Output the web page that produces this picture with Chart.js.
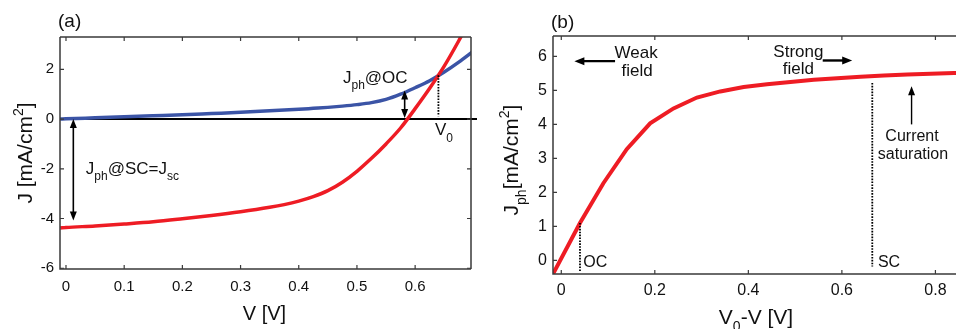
<!DOCTYPE html>
<html><head><meta charset="utf-8">
<script src="https://cdn.jsdelivr.net/npm/chart.js@4/dist/chart.umd.min.js"></script>
<style>
html,body{margin:0;padding:0;background:#fff;overflow:hidden;width:956px;height:329px}
#ca{position:absolute;left:0;top:0}
#cb{position:absolute;left:478px;top:0}
</style></head><body>
<canvas id="ca" width="478" height="329"></canvas>
<canvas id="cb" width="478" height="329"></canvas>
<script>
// ---------- Panel (a) data: J-V curves ----------
const voltageA = [-0.01, 0, 0.05, 0.1, 0.15, 0.2, 0.25, 0.3, 0.35, 0.375, 0.4, 0.425, 0.45, 0.475, 0.5, 0.525, 0.55, 0.575, 0.6, 0.625, 0.65, 0.675, 0.7];
const jIlluminated = [-4.38, -4.36, -4.30, -4.22, -4.13, -4.01, -3.88, -3.73, -3.55, -3.44, -3.30, -3.12, -2.88, -2.54, -2.10, -1.58, -1.00, -0.36, 0.42, 1.24, 2.13, 3.15, 4.25];
const jDark = [0.0, 0.01, 0.05, 0.09, 0.13, 0.17, 0.22, 0.27, 0.33, 0.36, 0.39, 0.43, 0.47, 0.52, 0.58, 0.66, 0.79, 1.00, 1.26, 1.54, 1.89, 2.29, 2.73];
const xTicksA = [0, 0.1, 0.2, 0.3, 0.4, 0.5, 0.6];
const xTickLabelsA = ['0', '0.1', '0.2', '0.3', '0.4', '0.5', '0.6'];
const yTicksA = [-6, -4, -2, 0, 2];
const yTickLabelsA = ['-6', '-4', '-2', '0', '2'];

// ---------- Panel (b) data: photocurrent ----------
const fieldB = [-0.02, 0.04, 0.09, 0.14, 0.19, 0.24, 0.29, 0.34, 0.39, 0.44, 0.49, 0.54, 0.59, 0.64, 0.69, 0.74, 0.79, 0.84, 0.89];
const jPhoto = [-0.46, 1.10, 2.27, 3.27, 4.03, 4.47, 4.79, 4.97, 5.10, 5.18, 5.25, 5.31, 5.36, 5.40, 5.44, 5.47, 5.49, 5.51, 5.53];
const xTicksB = [0, 0.2, 0.4, 0.6, 0.8];
const xTickLabelsB = ['0', '0.2', '0.4', '0.6', '0.8'];
const yTicksB = [0, 1, 2, 3, 4, 5, 6];
const yTickLabelsB = ['0', '1', '2', '3', '4', '5', '6'];

const FONT = '"Liberation Sans", Arial, sans-serif';
const FRAME = '#3a3a3a';
const RED = '#ee1c24';
const BLUE = '#3b54a6';

function rich(ctx, segs, x, y, size, align) {
  const f = m => Math.round(m ? size * 0.68 : size) + 'px ' + FONT;
  const w = segs.map(([t, m]) => { ctx.font = f(m); return ctx.measureText(t).width; });
  const total = w.reduce((a, b) => a + b, 0);
  let cx = align === 'center' ? x - total / 2 : (align === 'right' ? x - total : x);
  ctx.textAlign = 'left'; ctx.textBaseline = 'alphabetic';
  segs.forEach(([t, m], i) => {
    ctx.font = f(m);
    const dy = m === 1 ? size * 0.36 : (m === 2 ? -size * 0.42 : 0);
    ctx.fillText(t, cx, y + dy);
    cx += w[i];
  });
}
function arrowHead(ctx, x, y, dx, dy, len, wid) {
  const n = Math.hypot(dx, dy); const ux = dx / n, uy = dy / n;
  ctx.beginPath();
  ctx.moveTo(x, y);
  ctx.lineTo(x - ux * len - uy * wid / 2, y - uy * len + ux * wid / 2);
  ctx.lineTo(x - ux * len + uy * wid / 2, y - uy * len - ux * wid / 2);
  ctx.closePath(); ctx.fill();
}
function arrow(ctx, x1, y1, x2, y2, both, lw, L, W) {
  L = L || 9; W = W || 7;
  const n = Math.hypot(x2 - x1, y2 - y1); const ux = (x2 - x1) / n, uy = (y2 - y1) / n;
  ctx.strokeStyle = '#000'; ctx.fillStyle = '#000'; ctx.lineWidth = lw || 1.6; ctx.setLineDash([]);
  ctx.beginPath();
  ctx.moveTo(both ? x1 + ux * (L - 2) : x1, both ? y1 + uy * (L - 2) : y1);
  ctx.lineTo(x2 - ux * (L - 2), y2 - uy * (L - 2));
  ctx.stroke();
  arrowHead(ctx, x2, y2, ux, uy, L, W);
  if (both) arrowHead(ctx, x1, y1, -ux, -uy, L, W);
}
function dotted(ctx, x, y1, y2) {
  ctx.save(); ctx.strokeStyle = '#000'; ctx.lineWidth = 1.8; ctx.setLineDash([1.6, 1.3]);
  ctx.beginPath(); ctx.moveTo(x, y1); ctx.lineTo(x, y2); ctx.stroke(); ctx.restore();
}
function frameAndTicks(chart, sides) {
  const ctx = chart.ctx, a = chart.chartArea, xs = chart.scales.x, ys = chart.scales.y;
  ctx.save();
  ctx.strokeStyle = FRAME; ctx.lineWidth = 1.5; ctx.setLineDash([]);
  ctx.beginPath();
  ctx.moveTo(a.left, a.top); ctx.lineTo(a.left, a.bottom); ctx.lineTo(a.right, a.bottom);
  ctx.moveTo(a.left, a.top); ctx.lineTo(a.right, a.top);
  if (sides.right) { ctx.moveTo(a.right, a.top); ctx.lineTo(a.right, a.bottom); }
  ctx.stroke();
  ctx.lineWidth = 1.2;
  ctx.beginPath();
  xs.ticks.forEach(t => {
    const p = xs.getPixelForValue(t.value);
    ctx.moveTo(p, a.bottom); ctx.lineTo(p, a.bottom - 4);
    ctx.moveTo(p, a.top); ctx.lineTo(p, a.top + 4);
  });
  ys.ticks.forEach(t => {
    const p = ys.getPixelForValue(t.value);
    ctx.moveTo(a.left, p); ctx.lineTo(a.left + 4, p);
    if (sides.right) { ctx.moveTo(a.right, p); ctx.lineTo(a.right - 4, p); }
  });
  ctx.stroke();
  ctx.restore();
}
function axisCommon(ticksArr, labelsArr, min, max, size, pad, fitProp, fitVal) {
  return {
    type: 'linear', min: min, max: max,
    grid: { display: false, drawTicks: false }, border: { display: false },
    afterBuildTicks: s => { s.ticks = ticksArr.map(v => ({ value: v })); },
    afterFit: s => { s[fitProp] = fitVal; },
    ticks: {
      color: '#111', font: { family: FONT, size: size }, padding: pad,
      maxRotation: 0, autoSkip: false,
      callback: (v, i) => labelsArr[i]
    }
  };
}

// ---------- Chart (a) ----------
const pluginA = {
  id: 'pa',
  beforeDatasetsDraw(chart) {
    const ctx = chart.ctx, a = chart.chartArea, ys = chart.scales.y;
    const y0 = ys.getPixelForValue(0);
    ctx.save(); ctx.strokeStyle = '#000'; ctx.lineWidth = 2;
    ctx.beginPath(); ctx.moveTo(a.left, y0); ctx.lineTo(a.right + 6, y0); ctx.stroke(); ctx.restore();
  },
  afterDatasetsDraw(chart) {
    const ctx = chart.ctx, xs = chart.scales.x, ys = chart.scales.y;
    frameAndTicks(chart, { right: true });
    const X = v => xs.getPixelForValue(v), Y = v => ys.getPixelForValue(v);
    ctx.save();
    arrow(ctx, X(0.0126), Y(0), X(0.0126), Y(-4.08), true);
    arrow(ctx, X(0.582), Y(0.04), X(0.582), Y(1.15), true);
    dotted(ctx, X(0.640), Y(1.76), Y(0.11));
    ctx.fillStyle = '#111';
    rich(ctx, [['J', 0], ['ph', 1], ['@OC', 0]], X(0.476), Y(1.44), 17, 'left');
    rich(ctx, [['V', 0], ['0', 1]], X(0.634), Y(-0.66), 17, 'left');
    rich(ctx, [['J', 0], ['ph', 1], ['@SC=J', 0], ['sc', 1]], X(0.034), Y(-2.20), 17, 'left');
    const a = chart.chartArea;
    rich(ctx, [['(a)', 0]], a.left - 2, 26.5, 19, 'left');
    rich(ctx, [['V [V]', 0]], (a.left + a.right) / 2 - 1, 320, 20, 'center');
    ctx.translate(31.5, 153); ctx.rotate(-Math.PI / 2);
    rich(ctx, [['J [mA/cm', 0], ['2', 2], [']', 0]], 0, 0, 21, 'center');
    ctx.restore();
  }
};
new Chart(document.getElementById('ca'), {
  type: 'line',
  data: {
    datasets: [
      { data: voltageA.map((v, i) => ({ x: v, y: jIlluminated[i] })), borderColor: RED, borderWidth: 3.5, pointRadius: 0, cubicInterpolationMode: 'monotone', fill: false },
      { data: voltageA.map((v, i) => ({ x: v, y: jDark[i] })), borderColor: BLUE, borderWidth: 3.5, pointRadius: 0, cubicInterpolationMode: 'monotone', fill: false }
    ]
  },
  options: {
    responsive: false, animation: false, devicePixelRatio: 1,
    layout: { padding: { left: 0, top: 37, right: 7, bottom: 0 } },
    plugins: { legend: { display: false }, tooltip: { enabled: false } },
    scales: {
      x: axisCommon(xTicksA, xTickLabelsA, -0.0103, 0.696, 15, 9, 'height', 60),
      y: axisCommon(yTicksA, yTickLabelsA, -6.03, 3.3, 15, 6, 'width', 60)
    }
  },
  plugins: [pluginA]
});

// ---------- Chart (b) ----------
const pluginB = {
  id: 'pb',
  afterDatasetsDraw(chart) {
    const ctx = chart.ctx, xs = chart.scales.x, ys = chart.scales.y, a = chart.chartArea;
    frameAndTicks(chart, { right: false });
    const X = v => xs.getPixelForValue(v), Y = v => ys.getPixelForValue(v);
    ctx.save();
    dotted(ctx, X(0.040), Y(1.1), Y(-0.35));
    dotted(ctx, X(0.665), Y(5.22), Y(-0.18));
    arrow(ctx, X(0.115), Y(5.86), X(0.028), Y(5.86), false, 2.4, 10, 8);
    arrow(ctx, X(0.559), Y(5.88), X(0.622), Y(5.88), false, 2.4, 10, 8);
    arrow(ctx, X(0.749), Y(4.0), X(0.749), Y(5.12), false, 1.4);
    ctx.fillStyle = '#111';
    rich(ctx, [['Weak', 0]], X(0.160), Y(5.96), 17, 'center');
    rich(ctx, [['field', 0]], X(0.162), Y(5.42), 17, 'center');
    rich(ctx, [['Strong', 0]], X(0.507), Y(5.98), 17, 'center');
    rich(ctx, [['field', 0]], X(0.507), Y(5.48), 17, 'center');
    rich(ctx, [['Current', 0]], X(0.750), Y(3.52), 16, 'center');
    rich(ctx, [['saturation', 0]], X(0.752), Y(2.98), 16, 'center');
    rich(ctx, [['OC', 0]], X(0.047), Y(-0.18), 16, 'left');
    rich(ctx, [['SC', 0]], X(0.677), Y(-0.18), 16, 'left');
    rich(ctx, [['(b)', 0]], a.left - 2, 27.5, 19, 'left');
    rich(ctx, [['V', 0], ['0', 1], ['-V [V]', 0]], 756 - 478, 323.5, 21, 'center');
    ctx.translate(518 - 478, 160); ctx.rotate(-Math.PI / 2);
    rich(ctx, [['J', 0], ['ph', 1], ['[mA/cm', 0], ['2', 2], [']', 0]], 0, 0, 21, 'center');
    ctx.restore();
  }
};
new Chart(document.getElementById('cb'), {
  type: 'line',
  data: {
    datasets: [
      { data: fieldB.map((v, i) => ({ x: v, y: jPhoto[i] })), borderColor: RED, borderWidth: 4, pointRadius: 0, tension: 0, fill: false }
    ]
  },
  options: {
    responsive: false, animation: false, devicePixelRatio: 1,
    layout: { padding: { left: 0, top: 36, right: 0, bottom: 0 } },
    plugins: { legend: { display: false }, tooltip: { enabled: false } },
    scales: {
      x: axisCommon(xTicksB, xTickLabelsB, -0.0177, 0.844, 16, 6.5, 'height', 55),
      y: axisCommon(yTicksB, yTickLabelsB, -0.4, 6.6, 16, 6, 'width', 75)
    }
  },
  plugins: [pluginB]
});
</script>
</body></html>
